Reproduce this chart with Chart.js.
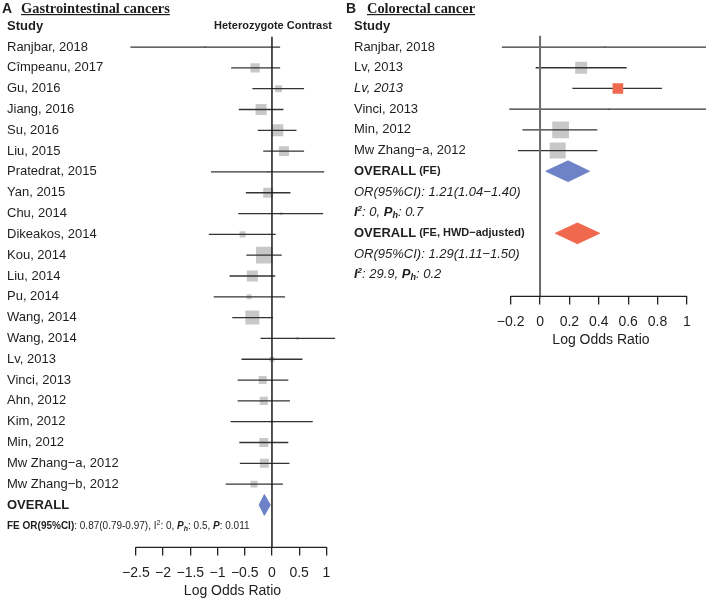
<!DOCTYPE html>
<html>
<head>
<meta charset="utf-8">
<script src="https://cdn.jsdelivr.net/npm/chart.js@4.4.1/dist/chart.umd.min.js"></script>
<style>
html, body { margin: 0; padding: 0; background: #fff; }
#wrapA { position: absolute; left: 0; top: 0; width: 345px; height: 600px; }
#wrapB { position: absolute; left: 345px; top: 0; width: 363px; height: 349px; }
</style>
</head>
<body>
<div id="wrapA"><canvas id="chartA" width="345" height="600"></canvas></div>
<div id="wrapB"><canvas id="chartB" width="363" height="349"></canvas></div>
<script>
// ---- panel A: gastrointestinal cancers (log odds ratio) ----
var studiesA = ['Ranjbar, 2018', 'C\u00eempeanu, 2017', 'Gu, 2016', 'Jiang, 2016', 'Su, 2016', 'Liu, 2015',
  'Pratedrat, 2015', 'Yan, 2015', 'Chu, 2014', 'Dikeakos, 2014', 'Kou, 2014', 'Liu, 2014', 'Pu, 2014',
  'Wang, 2014', 'Wang, 2014', 'Lv, 2013', 'Vinci, 2013', 'Ahn, 2012', 'Kim, 2012', 'Min, 2012',
  'Mw Zhang\u2212a, 2012', 'Mw Zhang\u2212b, 2012'];
var estA = [-1.23, -0.31, 0.12, -0.2, 0.1, 0.22, -0.07, -0.07, 0.17, -0.54, -0.14, -0.36, -0.42,
  -0.36, 0.47, 0, -0.17, -0.15, 0, -0.15, -0.14, -0.33];
var loA = [-2.6, -0.75, -0.36, -0.61, -0.26, -0.16, -1.12, -0.48, -0.62, -1.16, -0.47, -0.78, -1.07,
  -0.73, -0.21, -0.56, -0.63, -0.63, -0.76, -0.6, -0.59, -0.85];
var hiA = [0.15, 0.15, 0.59, 0.21, 0.45, 0.59, 0.96, 0.34, 0.94, 0.07, 0.18, 0.06, 0.24,
  0.02, 1.16, 0.56, 0.3, 0.33, 0.75, 0.3, 0.32, 0.2];
var weightA = [0.2, 4.3, 2.4, 6, 7.1, 4.9, 0.2, 4.9, 0.4, 1.8, 13.8, 6, 1.2,
  9.7, 0.4, 1.3, 3.2, 3.2, 0.4, 4, 4, 2.4];
var ticksA = [-2.5, -2, -1.5, -1, -0.5, 0, 0.5, 1];
var pooledA = [0.87, 0.79, 0.97];   // OR, lower, upper
var statsA = { i2: '0', ph: '0.5', p: '0.011' };

// ---- panel B: colorectal cancer ----
var studiesB = ['Ranjbar, 2018', 'Lv, 2013', 'Lv, 2013', 'Vinci, 2013', 'Min, 2012', 'Mw Zhang\u2212a, 2012'];
var estB = [0.44, 0.28, 0.53, 0.47, 0.14, 0.12];
var loB = [-0.26, -0.03, 0.22, -0.21, -0.12, -0.15];
var hiB = [1.25, 0.59, 0.83, 1.25, 0.39, 0.39];
var weightB = [0.2, 7.1, 5.6, 0.2, 13.8, 12.6];
var adjustedB = 2;                   // HWD-adjusted study row
var ticksB = [-0.2, 0, 0.2, 0.4, 0.6, 0.8, 1];
var pooledB = [1.21, 1.04, 1.40];    // FE
var pooledBadj = [1.29, 1.11, 1.50]; // FE, HWD-adjusted
var statsB = { i2: '0', ph: '0.7' };
var statsBadj = { i2: '29.9', ph: '0.2' };

var SANS = '"Liberation Sans", Arial, Helvetica, sans-serif';
var SERIF = '"Liberation Serif", "Times New Roman", serif';
var GREY = '#c8c8c8', RED = '#f0694f', BLUE = '#6e82c8', INK = '#1e1e1e';

function tickText(v) {
  return (v < 0 ? '\u2212' : '') + Math.abs(v);
}

function ciDatasets(lo, hi) {
  return lo.map(function (l, i) {
    return {
      data: [{ x: l, y: i }, { x: hi[i], y: i }],
      showLine: true, borderColor: '#333', borderWidth: 1.3,
      pointRadius: 0, order: 2
    };
  });
}

function squareDataset(est, weight, keep, color, order) {
  var pts = [], rad = [];
  est.forEach(function (v, i) {
    if (keep(i)) {
      pts.push({ x: v, y: i });
      rad.push(4.5 * Math.sqrt(weight[i]) / Math.SQRT2);
    }
  });
  return {
    data: pts, pointStyle: 'rect', pointRadius: rad, backgroundColor: color,
    borderWidth: 0, showLine: false, order: order
  };
}

function diamond(p, row, color) {
  var o = Math.log(p[0]), l = Math.log(p[1]), h = Math.log(p[2]);
  return {
    data: [{ x: l, y: row }, { x: o, y: row - 0.5 }, { x: h, y: row }, { x: o, y: row + 0.5 }, { x: l, y: row }],
    showLine: true, fill: 'shape', backgroundColor: color, borderColor: color,
    borderWidth: 1, pointRadius: 0, tension: 0, order: 1
  };
}

function drawRuns(ctx, x, y, runs) {
  ctx.textAlign = 'left';
  ctx.textBaseline = 'middle';
  ctx.fillStyle = INK;
  runs.forEach(function (r) {
    ctx.font = r[1] + ' ' + SANS;
    ctx.fillText(r[0], x, y + (r[2] || 0));
    x += ctx.measureText(r[0]).width;
  });
}

function drawTitle(ctx, letter, text, xl, xt) {
  ctx.fillStyle = INK;
  ctx.textAlign = 'left';
  ctx.textBaseline = 'alphabetic';
  ctx.font = 'bold 14px ' + SANS;
  ctx.fillText(letter, xl, 13);
  ctx.font = 'bold 14.4px ' + SERIF;
  ctx.fillText(text, xt, 12.5);
  ctx.fillRect(xt, 14, ctx.measureText(text).width, 1.2);
}

function drawAxisFrame(chart, ticks, refTop, refColor, refWidth) {
  var ctx = chart.ctx, sx = chart.scales.x, sy = chart.scales.y, b = chart.chartArea.bottom;
  ctx.save();
  ctx.strokeStyle = refColor;
  ctx.lineWidth = refWidth;
  ctx.beginPath();
  ctx.moveTo(sx.getPixelForValue(0), sy.getPixelForValue(refTop));
  ctx.lineTo(sx.getPixelForValue(0), b);
  ctx.stroke();
  ctx.strokeStyle = '#222';
  ctx.lineWidth = 1.3;
  ctx.beginPath();
  ctx.moveTo(sx.getPixelForValue(ticks[0]), b);
  ctx.lineTo(sx.getPixelForValue(ticks[ticks.length - 1]), b);
  ctx.stroke();
  ctx.restore();
}

function baseOptions(ticks, xmin, xmax, ymin, ymax, padLeft, padRight) {
  return {
    responsive: false, animation: false, events: [],
    layout: { autoPadding: false, padding: { left: padLeft, right: padRight, top: 0, bottom: 0 } },
    plugins: { legend: { display: false }, tooltip: { enabled: false } },
    scales: {
      x: {
        type: 'linear', min: xmin, max: xmax,
        afterBuildTicks: function (s) { s.ticks = ticks.map(function (v) { return { value: v }; }); },
        grid: { drawOnChartArea: false, drawTicks: true, tickLength: 8, color: '#222', lineWidth: 1.3 },
        border: { display: false },
        ticks: { autoSkip: false, maxRotation: 0, padding: 9, color: INK, font: { family: SANS, size: 14 },
          callback: function (v) { return tickText(v); } },
        title: { display: true, text: 'Log Odds Ratio', color: INK, font: { family: SANS, size: 14 },
          padding: { top: -7, bottom: 0 } }
      },
      y: { type: 'linear', display: false, reverse: true, min: ymin, max: ymax }
    }
  };
}

// ---- chart A ----
var dsA = ciDatasets(loA, hiA);
dsA.push(squareDataset(estA, weightA, function () { return true; }, GREY, 3));
dsA.push(diamond(pooledA, studiesA.length, BLUE));

new Chart(document.getElementById('chartA'), {
  type: 'scatter',
  data: { datasets: dsA },
  options: baseOptions(ticksA, -2.7, 1.25, -2.26, 24.04, 125, 5),
  plugins: [{
    id: 'textA',
    afterDraw: function (chart) {
      var ctx = chart.ctx, sy = chart.scales.y;
      drawAxisFrame(chart, ticksA, -0.5, '#1a1a1a', 1.5);
      drawTitle(ctx, 'A', 'Gastrointestinal cancers', 2, 21);
      drawRuns(ctx, 7, sy.getPixelForValue(-1), [['Study', 'bold 13px']]);
      ctx.textAlign = 'right';
      ctx.font = 'bold 11px ' + SANS;
      ctx.fillText('Heterozygote Contrast', 332, sy.getPixelForValue(-1));
      studiesA.forEach(function (s, i) {
        drawRuns(ctx, 7, sy.getPixelForValue(i), [[s, '13px']]);
      });
      var n = studiesA.length;
      drawRuns(ctx, 7, sy.getPixelForValue(n), [['OVERALL', 'bold 13px']]);
      var ci = pooledA[0].toFixed(2) + '(' + pooledA[1].toFixed(2) + '-' + pooledA[2].toFixed(2) + ')';
      drawRuns(ctx, 7, sy.getPixelForValue(n + 1), [
        ['FE OR(95%CI)', 'bold 10px'],
        [': ' + ci + ', I', '10px'],
        ['2', '7px', -3],
        [': ' + statsA.i2 + ', ', '10px'],
        ['P', 'italic bold 10px'],
        ['h', 'italic bold 7px', 3],
        [': ' + statsA.ph + ', ', '10px'],
        ['P', 'italic bold 10px'],
        [': ' + statsA.p, '10px']
      ]);
    }
  }]
});

// ---- chart B ----
var dsB = ciDatasets(loB, hiB);
dsB.push(squareDataset(estB, weightB, function (i) { return i !== adjustedB; }, GREY, 3));
dsB.push(squareDataset(estB, weightB, function (i) { return i === adjustedB; }, RED, 1));
dsB.push(diamond(pooledB, studiesB.length, BLUE));
dsB.push(diamond(pooledBadj, studiesB.length + 3, RED));

function orText(p) {
  return 'OR(95%CI): ' + p[0].toFixed(2) + '(' + p[1].toFixed(2) + '\u2212' + p[2].toFixed(2) + ')';
}
function hetRuns(st) {
  return [
    ['I', 'italic bold 13px'],
    ['2', 'italic bold 8px', -4],
    [': ' + st.i2 + ', ', 'italic 13px'],
    ['P', 'italic bold 13px'],
    ['h', 'italic bold 9px', 3],
    [': ' + st.ph, 'italic 13px']
  ];
}

new Chart(document.getElementById('chartB'), {
  type: 'scatter',
  data: { datasets: dsB },
  options: baseOptions(ticksB, -0.3, 1.13, -2.275, 12.05, 151, 2),
  plugins: [{
    id: 'textB',
    afterDraw: function (chart) {
      var ctx = chart.ctx, sy = chart.scales.y;
      drawAxisFrame(chart, ticksB, -0.55, '#6b6b6b', 2);
      drawTitle(ctx, 'B', 'Colorectal cancer', 1, 22);
      drawRuns(ctx, 9, sy.getPixelForValue(-1), [['Study', 'bold 13px']]);
      studiesB.forEach(function (s, i) {
        drawRuns(ctx, 9, sy.getPixelForValue(i), [[s, i === adjustedB ? 'italic 13px' : '13px']]);
      });
      var n = studiesB.length;
      drawRuns(ctx, 9, sy.getPixelForValue(n), [['OVERALL', 'bold 13px'], [' (FE)', 'bold 11px']]);
      drawRuns(ctx, 9, sy.getPixelForValue(n + 1), [[orText(pooledB), 'italic 13px']]);
      drawRuns(ctx, 9, sy.getPixelForValue(n + 2), hetRuns(statsB));
      drawRuns(ctx, 9, sy.getPixelForValue(n + 3), [['OVERALL', 'bold 13px'], [' (FE, HWD\u2212adjusted)', 'bold 11px']]);
      drawRuns(ctx, 9, sy.getPixelForValue(n + 4), [[orText(pooledBadj), 'italic 13px']]);
      drawRuns(ctx, 9, sy.getPixelForValue(n + 5), hetRuns(statsBadj));
    }
  }]
});
</script>
</body>
</html>
